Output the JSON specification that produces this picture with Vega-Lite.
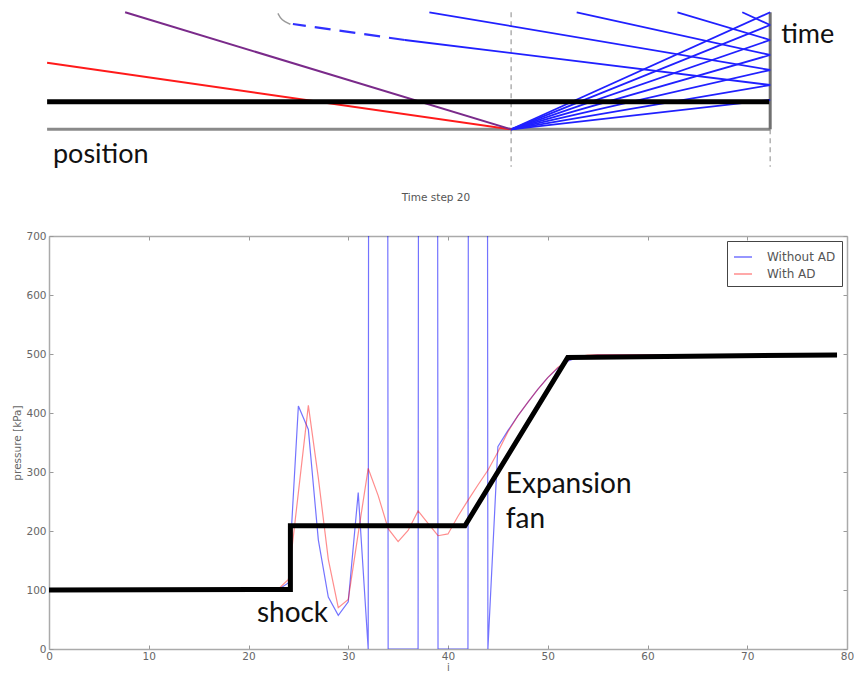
{
  "$schema": "https://vega.github.io/schema/vega-lite/v6.json",
  "padding": {"left": 12, "top": 0, "right": 0, "bottom": 0},
  "background": "white",
  "spacing": 22,
  "resolve": {"scale": {"color": "independent"}, "legend": {"color": "independent"}},
  "config": {"view": {"stroke": null}, "font": "DejaVu Sans"},
  "datasets": {
    "diagram": [
      {"id": "d1", "grp": "dashed", "k": 0, "pos": 46.33, "t": 11.7},
      {"id": "d1", "grp": "dashed", "k": 1, "pos": 46.33, "t": -3.74},
      {"id": "d2", "grp": "dashed", "k": 0, "pos": 72.3, "t": 0},
      {"id": "d2", "grp": "dashed", "k": 1, "pos": 72.3, "t": -3.74},
      {"id": "g", "grp": "ground", "k": 0, "pos": -0.19, "t": 0},
      {"id": "g", "grp": "ground", "k": 1, "pos": 72.3, "t": 0},
      {"id": "w", "grp": "wall", "k": 0, "pos": 72.3, "t": 0},
      {"id": "w", "grp": "wall", "k": 1, "pos": 72.3, "t": 11.7},
      {"id": "f1", "grp": "fan", "k": 0, "pos": 46.33, "t": 0},
      {"id": "f1", "grp": "fan", "k": 1, "pos": 72.3, "t": 2.93},
      {"id": "f2", "grp": "fan", "k": 0, "pos": 46.33, "t": 0},
      {"id": "f2", "grp": "fan", "k": 1, "pos": 72.3, "t": 4.43},
      {"id": "f3", "grp": "fan", "k": 0, "pos": 46.33, "t": 0},
      {"id": "f3", "grp": "fan", "k": 1, "pos": 72.3, "t": 5.93},
      {"id": "f4", "grp": "fan", "k": 0, "pos": 46.33, "t": 0},
      {"id": "f4", "grp": "fan", "k": 1, "pos": 72.3, "t": 7.43},
      {"id": "f5", "grp": "fan", "k": 0, "pos": 46.33, "t": 0},
      {"id": "f5", "grp": "fan", "k": 1, "pos": 72.3, "t": 8.93},
      {"id": "f6", "grp": "fan", "k": 0, "pos": 46.33, "t": 0},
      {"id": "f6", "grp": "fan", "k": 1, "pos": 72.3, "t": 10.43},
      {"id": "f7", "grp": "fan", "k": 0, "pos": 46.33, "t": 0},
      {"id": "f7", "grp": "fan", "k": 1, "pos": 72.3, "t": 11.7},
      {"id": "r1", "grp": "reflected", "k": 0, "pos": 72.3, "t": 4.43},
      {"id": "r1", "grp": "reflected", "k": 1, "pos": 35.67, "t": 8.93},
      {"id": "r2", "grp": "reflected", "k": 0, "pos": 72.3, "t": 5.93},
      {"id": "r2", "grp": "reflected", "k": 1, "pos": 38.13, "t": 11.7},
      {"id": "r3", "grp": "reflected", "k": 0, "pos": 72.3, "t": 7.43},
      {"id": "r3", "grp": "reflected", "k": 1, "pos": 52.9, "t": 11.7},
      {"id": "r4", "grp": "reflected", "k": 0, "pos": 72.3, "t": 8.93},
      {"id": "r4", "grp": "reflected", "k": 1, "pos": 63.0, "t": 11.7},
      {"id": "r5", "grp": "reflected", "k": 0, "pos": 72.3, "t": 10.43},
      {"id": "r5", "grp": "reflected", "k": 1, "pos": 69.5, "t": 11.7},
      {"id": "r1d", "grp": "reflectedDashed", "k": 0, "pos": 35.67, "t": 8.93},
      {"id": "r1d", "grp": "reflectedDashed", "k": 1, "pos": 24.45, "t": 10.53},
      {"id": "a", "grp": "arc", "k": 0, "pos": 24.2, "t": 10.5},
      {"id": "a", "grp": "arc", "k": 1, "pos": 23.3, "t": 10.9},
      {"id": "a", "grp": "arc", "k": 2, "pos": 22.95, "t": 11.6},
      {"id": "s", "grp": "shock", "k": 0, "pos": -0.19, "t": 6.66},
      {"id": "s", "grp": "shock", "k": 1, "pos": 46.33, "t": 0},
      {"id": "c", "grp": "contact", "k": 0, "pos": 7.63, "t": 11.7},
      {"id": "c", "grp": "contact", "k": 1, "pos": 46.33, "t": 0},
      {"id": "n", "grp": "now", "k": 0, "pos": -0.19, "t": 2.76},
      {"id": "n", "grp": "now", "k": 1, "pos": 72.2, "t": 2.76}
    ],
    "diagramText": [
      {"label": "position", "pos": 0.4, "t": -3.4},
      {"label": "time", "pos": 73.4, "t": 8.66}
    ],
    "exact": [
      {"k": 0, "i": 0, "p": 100},
      {"k": 1, "i": 24.2, "p": 101},
      {"k": 2, "i": 24.2, "p": 209},
      {"k": 3, "i": 41.7, "p": 209},
      {"k": 4, "i": 52, "p": 494},
      {"k": 5, "i": 79, "p": 498.5}
    ],
    "notes": [
      {"label": "shock", "i": 20.84, "p": 46.2},
      {"label": "Expansion", "i": 45.8, "p": 263.7},
      {"label": "fan", "i": 45.8, "p": 204.4}
    ],
    "sim": [
      {"series": "Without AD", "i": 0, "p": 100}, {"series": "Without AD", "i": 1, "p": 100}, {"series": "Without AD", "i": 2, "p": 100}, {"series": "Without AD", "i": 3, "p": 100}, {"series": "Without AD", "i": 4, "p": 100},
      {"series": "Without AD", "i": 5, "p": 100}, {"series": "Without AD", "i": 6, "p": 100}, {"series": "Without AD", "i": 7, "p": 100}, {"series": "Without AD", "i": 8, "p": 100}, {"series": "Without AD", "i": 9, "p": 100},
      {"series": "Without AD", "i": 10, "p": 100}, {"series": "Without AD", "i": 11, "p": 100}, {"series": "Without AD", "i": 12, "p": 100}, {"series": "Without AD", "i": 13, "p": 100}, {"series": "Without AD", "i": 14, "p": 100},
      {"series": "Without AD", "i": 15, "p": 100}, {"series": "Without AD", "i": 16, "p": 100}, {"series": "Without AD", "i": 17, "p": 100}, {"series": "Without AD", "i": 18, "p": 100}, {"series": "Without AD", "i": 19, "p": 100},
      {"series": "Without AD", "i": 20, "p": 100}, {"series": "Without AD", "i": 21, "p": 100}, {"series": "Without AD", "i": 22, "p": 100.5}, {"series": "Without AD", "i": 23, "p": 101}, {"series": "Without AD", "i": 24, "p": 112},
      {"series": "Without AD", "i": 25, "p": 412}, {"series": "Without AD", "i": 26, "p": 372}, {"series": "Without AD", "i": 27, "p": 185}, {"series": "Without AD", "i": 28, "p": 88}, {"series": "Without AD", "i": 29, "p": 57},
      {"series": "Without AD", "i": 30, "p": 80}, {"series": "Without AD", "i": 31, "p": 265}, {"series": "Without AD", "i": 32, "p": 0}, {"series": "Without AD", "i": 33, "p": 20000}, {"series": "Without AD", "i": 34, "p": 0},
      {"series": "Without AD", "i": 35, "p": 0}, {"series": "Without AD", "i": 36, "p": 0}, {"series": "Without AD", "i": 37, "p": 0}, {"series": "Without AD", "i": 38, "p": 20000}, {"series": "Without AD", "i": 39, "p": 0},
      {"series": "Without AD", "i": 40, "p": 0}, {"series": "Without AD", "i": 41, "p": 0}, {"series": "Without AD", "i": 42, "p": 0}, {"series": "Without AD", "i": 43, "p": 20000}, {"series": "Without AD", "i": 44, "p": 0},
      {"series": "Without AD", "i": 45, "p": 343}, {"series": "Without AD", "i": 46, "p": 370}, {"series": "Without AD", "i": 47, "p": 395}, {"series": "Without AD", "i": 48, "p": 418}, {"series": "Without AD", "i": 49, "p": 440},
      {"series": "Without AD", "i": 50, "p": 460}, {"series": "Without AD", "i": 51, "p": 476}, {"series": "Without AD", "i": 52, "p": 488}, {"series": "Without AD", "i": 53, "p": 494}, {"series": "Without AD", "i": 54, "p": 497},
      {"series": "Without AD", "i": 55, "p": 498}, {"series": "Without AD", "i": 56, "p": 498}, {"series": "Without AD", "i": 57, "p": 498}, {"series": "Without AD", "i": 58, "p": 498}, {"series": "Without AD", "i": 59, "p": 498},
      {"series": "Without AD", "i": 60, "p": 498}, {"series": "Without AD", "i": 61, "p": 498}, {"series": "Without AD", "i": 62, "p": 498}, {"series": "Without AD", "i": 63, "p": 498}, {"series": "Without AD", "i": 64, "p": 498},
      {"series": "Without AD", "i": 65, "p": 498}, {"series": "Without AD", "i": 66, "p": 498}, {"series": "Without AD", "i": 67, "p": 498}, {"series": "Without AD", "i": 68, "p": 498}, {"series": "Without AD", "i": 69, "p": 498},
      {"series": "Without AD", "i": 70, "p": 498.5}, {"series": "Without AD", "i": 71, "p": 498.5}, {"series": "Without AD", "i": 72, "p": 498.5}, {"series": "Without AD", "i": 73, "p": 498.5}, {"series": "Without AD", "i": 74, "p": 498.5},
      {"series": "Without AD", "i": 75, "p": 498.5}, {"series": "Without AD", "i": 76, "p": 498.5}, {"series": "Without AD", "i": 77, "p": 498.5}, {"series": "Without AD", "i": 78, "p": 498.5}, {"series": "Without AD", "i": 79, "p": 498.5},
      {"series": "With AD", "i": 0, "p": 100}, {"series": "With AD", "i": 1, "p": 100}, {"series": "With AD", "i": 2, "p": 100}, {"series": "With AD", "i": 3, "p": 100}, {"series": "With AD", "i": 4, "p": 100},
      {"series": "With AD", "i": 5, "p": 100}, {"series": "With AD", "i": 6, "p": 100}, {"series": "With AD", "i": 7, "p": 100}, {"series": "With AD", "i": 8, "p": 100}, {"series": "With AD", "i": 9, "p": 100},
      {"series": "With AD", "i": 10, "p": 100}, {"series": "With AD", "i": 11, "p": 100}, {"series": "With AD", "i": 12, "p": 100}, {"series": "With AD", "i": 13, "p": 100}, {"series": "With AD", "i": 14, "p": 100},
      {"series": "With AD", "i": 15, "p": 100}, {"series": "With AD", "i": 16, "p": 100}, {"series": "With AD", "i": 17, "p": 100}, {"series": "With AD", "i": 18, "p": 100}, {"series": "With AD", "i": 19, "p": 100},
      {"series": "With AD", "i": 20, "p": 100}, {"series": "With AD", "i": 21, "p": 100}, {"series": "With AD", "i": 22, "p": 100.5}, {"series": "With AD", "i": 23, "p": 102}, {"series": "With AD", "i": 24, "p": 118},
      {"series": "With AD", "i": 25, "p": 265}, {"series": "With AD", "i": 26, "p": 413}, {"series": "With AD", "i": 27, "p": 290}, {"series": "With AD", "i": 28, "p": 152}, {"series": "With AD", "i": 29, "p": 70},
      {"series": "With AD", "i": 30, "p": 84}, {"series": "With AD", "i": 31, "p": 196}, {"series": "With AD", "i": 32, "p": 306}, {"series": "With AD", "i": 33, "p": 260}, {"series": "With AD", "i": 34, "p": 204},
      {"series": "With AD", "i": 35, "p": 182}, {"series": "With AD", "i": 36, "p": 201}, {"series": "With AD", "i": 37, "p": 234}, {"series": "With AD", "i": 38, "p": 213}, {"series": "With AD", "i": 39, "p": 192},
      {"series": "With AD", "i": 40, "p": 195}, {"series": "With AD", "i": 41, "p": 225}, {"series": "With AD", "i": 42, "p": 252}, {"series": "With AD", "i": 43, "p": 278}, {"series": "With AD", "i": 44, "p": 303},
      {"series": "With AD", "i": 45, "p": 334}, {"series": "With AD", "i": 46, "p": 368}, {"series": "With AD", "i": 47, "p": 395}, {"series": "With AD", "i": 48, "p": 418}, {"series": "With AD", "i": 49, "p": 440},
      {"series": "With AD", "i": 50, "p": 460}, {"series": "With AD", "i": 51, "p": 477}, {"series": "With AD", "i": 52, "p": 489}, {"series": "With AD", "i": 53, "p": 495}, {"series": "With AD", "i": 54, "p": 498},
      {"series": "With AD", "i": 55, "p": 499}, {"series": "With AD", "i": 56, "p": 499}, {"series": "With AD", "i": 57, "p": 499}, {"series": "With AD", "i": 58, "p": 499}, {"series": "With AD", "i": 59, "p": 499},
      {"series": "With AD", "i": 60, "p": 499}, {"series": "With AD", "i": 61, "p": 499}, {"series": "With AD", "i": 62, "p": 499}, {"series": "With AD", "i": 63, "p": 499}, {"series": "With AD", "i": 64, "p": 499},
      {"series": "With AD", "i": 65, "p": 499}, {"series": "With AD", "i": 66, "p": 499}, {"series": "With AD", "i": 67, "p": 499}, {"series": "With AD", "i": 68, "p": 499}, {"series": "With AD", "i": 69, "p": 499},
      {"series": "With AD", "i": 70, "p": 499}, {"series": "With AD", "i": 71, "p": 499}, {"series": "With AD", "i": 72, "p": 499}, {"series": "With AD", "i": 73, "p": 499}, {"series": "With AD", "i": 74, "p": 499},
      {"series": "With AD", "i": 75, "p": 499}, {"series": "With AD", "i": 76, "p": 499}, {"series": "With AD", "i": 77, "p": 499}, {"series": "With AD", "i": 78, "p": 499}, {"series": "With AD", "i": 79, "p": 499}
    ]
  },
  "vconcat": [
    {
      "width": 798,
      "height": 170,
      "data": {"name": "diagram"},
      "encoding": {
        "x": {"field": "pos", "type": "quantitative", "scale": {"domain": [0, 80], "nice": false, "zero": false}, "axis": null},
        "y": {"field": "t", "type": "quantitative", "scale": {"domain": [-4.07, 12.93], "nice": false, "zero": false}, "axis": null}
      },
      "layer": [
        {"transform": [{"filter": "datum.grp === 'dashed'"}], "mark": {"type": "line", "color": "#b0b0b0", "strokeWidth": 1.5, "strokeDash": [5, 4]}, "encoding": {"detail": {"field": "id"}, "order": {"field": "k"}}},
        {"transform": [{"filter": "datum.grp === 'ground'"}], "mark": {"type": "line", "color": "#8a8a8a", "strokeWidth": 3}, "encoding": {"detail": {"field": "id"}, "order": {"field": "k"}}},
        {"transform": [{"filter": "datum.grp === 'wall'"}], "mark": {"type": "line", "color": "#707070", "strokeWidth": 3}, "encoding": {"detail": {"field": "id"}, "order": {"field": "k"}}},
        {"transform": [{"filter": "datum.grp === 'fan' || datum.grp === 'reflected'"}], "mark": {"type": "line", "color": "#2020ff", "strokeWidth": 1.8}, "encoding": {"detail": {"field": "id"}, "order": {"field": "k"}}},
        {"transform": [{"filter": "datum.grp === 'reflectedDashed'"}], "mark": {"type": "line", "color": "#3030ff", "strokeWidth": 2.2, "strokeDash": [16, 9]}, "encoding": {"detail": {"field": "id"}, "order": {"field": "k"}}},
        {"transform": [{"filter": "datum.grp === 'arc'"}], "mark": {"type": "line", "color": "#999999", "strokeWidth": 1.5, "interpolate": "basis"}, "encoding": {"detail": {"field": "id"}, "order": {"field": "k"}}},
        {"transform": [{"filter": "datum.grp === 'shock'"}], "mark": {"type": "line", "color": "#ff1a1a", "strokeWidth": 2}, "encoding": {"detail": {"field": "id"}, "order": {"field": "k"}}},
        {"transform": [{"filter": "datum.grp === 'contact'"}], "mark": {"type": "line", "color": "#7a2a8a", "strokeWidth": 2}, "encoding": {"detail": {"field": "id"}, "order": {"field": "k"}}},
        {"transform": [{"filter": "datum.grp === 'now'"}], "mark": {"type": "line", "color": "#000000", "strokeWidth": 5}, "encoding": {"detail": {"field": "id"}, "order": {"field": "k"}}},
        {"data": {"name": "diagramText"}, "mark": {"type": "text", "align": "left", "baseline": "alphabetic", "font": "Lato", "fontSize": 27, "color": "#111111"}, "encoding": {"text": {"field": "label"}}}
      ]
    },
    {
      "width": 798,
      "height": 413,
      "title": {"text": "Time step 20", "fontSize": 10.5, "fontWeight": "normal", "color": "#555555", "font": "DejaVu Sans", "offset": 20, "baseline": "alphabetic", "dx": -12},
      "resolve": {"axis": {"x": "independent", "y": "independent"}},
      "layer": [
        {
          "data": {"name": "sim"},
          "mark": {"type": "line", "strokeWidth": 1.2, "clip": true},
          "encoding": {
            "x": {"field": "i", "type": "quantitative", "scale": {"domain": [0, 80], "nice": false, "zero": false},
              "axis": {"values": [0, 10, 20, 30, 40, 50, 60, 70, 80], "labelFontSize": 10.5, "labelColor": "#666666", "labelFlush": false, "labelOverlap": false, "tickColor": "#999999", "tickSize": -4, "labelPadding": 6, "domainColor": "#aaaaaa", "domainWidth": 1.5, "grid": false, "title": "i", "titleFontSize": 10, "titleColor": "#666666", "titleFontWeight": "normal", "titlePadding": 1}},
            "y": {"field": "p", "type": "quantitative", "scale": {"domain": [0, 700], "nice": false},
              "axis": {"values": [0, 100, 200, 300, 400, 500, 600, 700], "labelFontSize": 10.5, "labelColor": "#666666", "labelOverlap": false, "labelFlush": false, "tickColor": "#999999", "tickSize": -4, "labelPadding": 7, "domainColor": "#aaaaaa", "domainWidth": 1.5, "grid": false, "title": "pressure [kPa]", "titleFontSize": 10.5, "titleColor": "#666666", "titleFontWeight": "normal", "titlePadding": 3}},
            "color": {"field": "series", "type": "nominal",
              "scale": {"domain": ["Without AD", "With AD"], "range": ["rgba(0,0,255,0.55)", "rgba(255,0,0,0.45)"]},
              "legend": {"title": null, "orient": "top-right", "offset": 5, "padding": 6, "strokeColor": "#444444", "fillColor": "white", "symbolType": "stroke", "symbolSize": 324, "symbolStrokeWidth": 1.5, "labelFontSize": 12, "labelColor": "#555555", "labelFont": "DejaVu Sans", "labelOffset": 14, "rowPadding": 1}}
          }
        },
        {
          "data": {"name": "exact"},
          "mark": {"type": "line", "color": "#000000", "strokeWidth": 5},
          "encoding": {
            "x": {"field": "i", "type": "quantitative", "axis": {"orient": "top", "labels": false, "values": [0, 10, 20, 30, 40, 50, 60, 70, 80], "tickColor": "#999999", "tickSize": -4, "domainColor": "#aaaaaa", "domainWidth": 1.5, "grid": false, "title": null}},
            "y": {"field": "p", "type": "quantitative", "axis": {"orient": "right", "labels": false, "values": [0, 100, 200, 300, 400, 500, 600, 700], "tickColor": "#999999", "tickSize": -4, "domainColor": "#aaaaaa", "domainWidth": 1.5, "grid": false, "title": null}},
            "order": {"field": "k"}
          }
        },
        {
          "data": {"name": "notes"},
          "mark": {"type": "text", "align": "left", "baseline": "alphabetic", "font": "Lato", "fontSize": 28, "color": "#111111"},
          "encoding": {
            "x": {"field": "i", "type": "quantitative", "axis": null},
            "y": {"field": "p", "type": "quantitative", "axis": null},
            "text": {"field": "label"}
          }
        }
      ]
    }
  ]
}
